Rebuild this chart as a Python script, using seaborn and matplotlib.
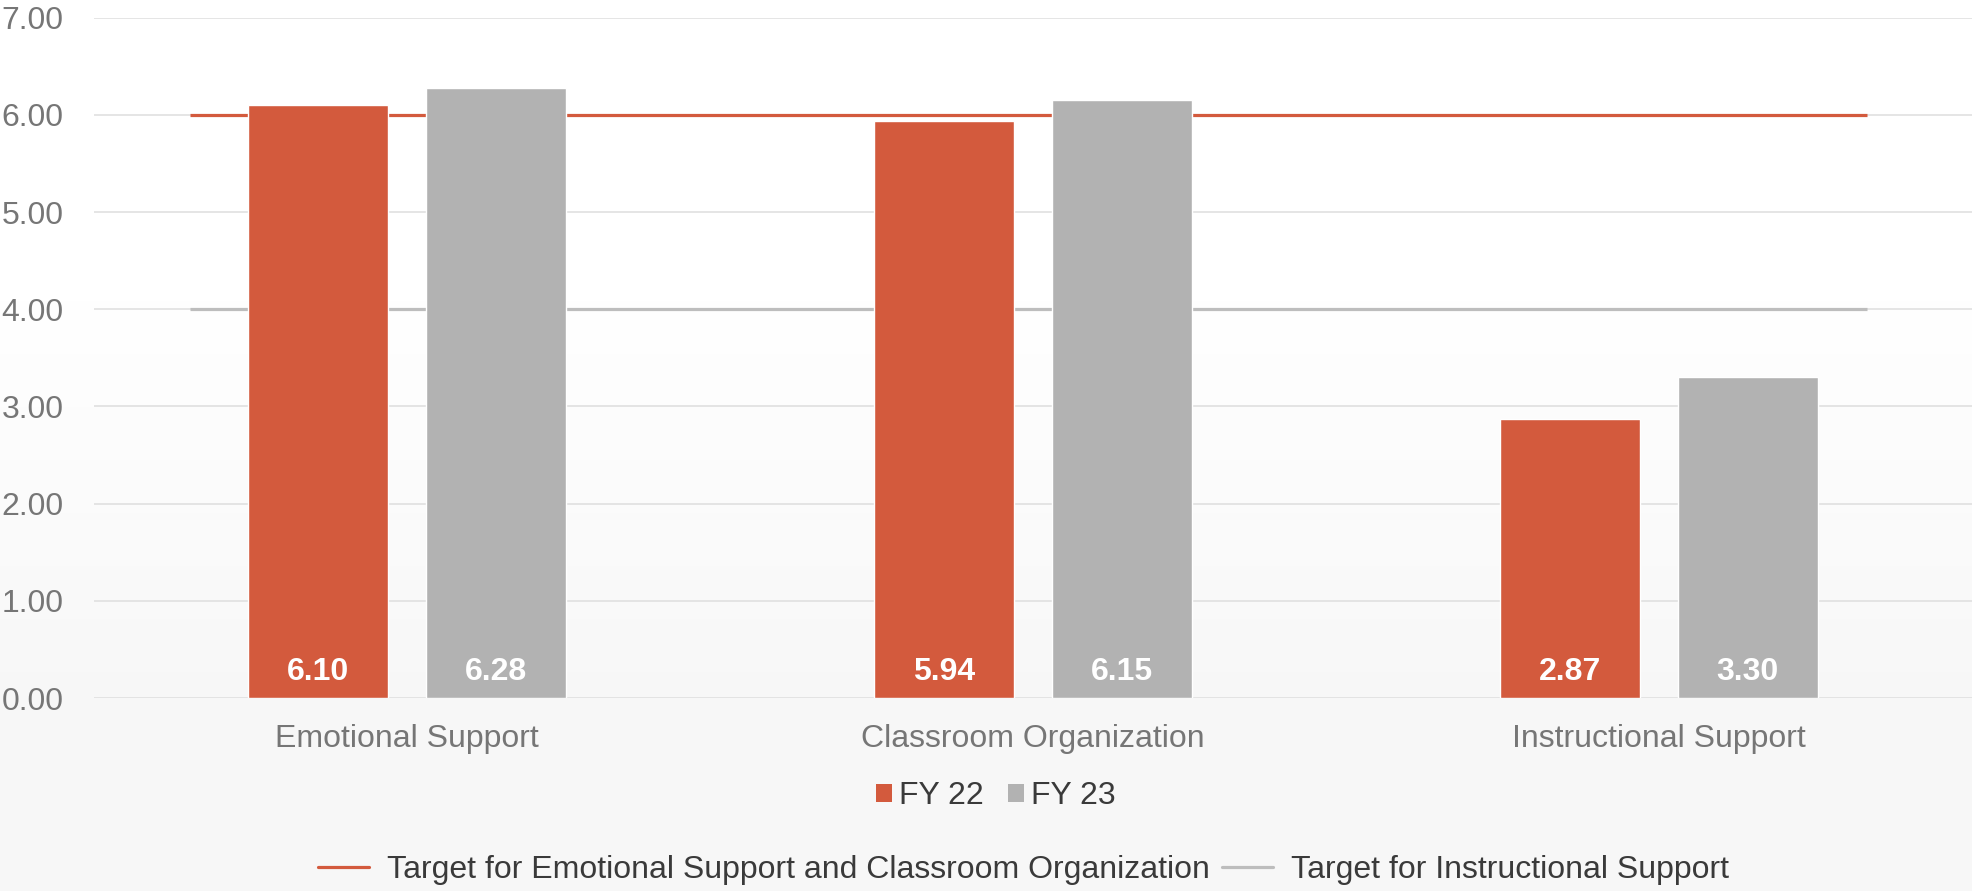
import numpy as np
import pandas as pd
import matplotlib
matplotlib.use("Agg")
import matplotlib.pyplot as plt
from matplotlib.patches import Patch
from matplotlib.lines import Line2D
import seaborn as sns

# Data
categories = ["Emotional Support", "Classroom Organization", "Instructional Support"]
series = ["FY 22", "FY 23"]
fy22 = [6.10, 5.94, 2.87]
fy23 = [6.28, 6.15, 3.30]
target_es_co = 6.00
target_is = 4.00
yticks = [0, 1, 2, 3, 4, 5, 6, 7]

RED = "#D35A3D"
GRAY = "#B2B2B2"
LINE_GRAY = "#BDBDBD"
TICK_COLOR = "#767676"
TEXT_DARK = "#3A3A3A"
FS = 23

sns.set_theme(style="white")
plt.rcParams["font.family"] = ["Liberation Sans", "DejaVu Sans"]

df = pd.DataFrame({
    "category": categories * 2,
    "series": [series[0]] * 3 + [series[1]] * 3,
    "score": fy22 + fy23,
})

W, H = 1972, 891
fig = plt.figure(figsize=(W / 100, H / 100), dpi=100)
fig.patch.set_facecolor("white")

# Soft vertical gradient behind everything (white at top, light grey below)
ypix = np.arange(H)
t = np.clip((ypix - 300) / (720 - 300), 0, 1)
shade = 1.0 - t * (1.0 - 0.969)
bg = np.repeat(np.repeat(shade[:, None], W, axis=1)[:, :, None], 3, axis=2)
fig.figimage(bg, xo=0, yo=0, origin="upper", zorder=-10)

ax = fig.add_axes([94 / W, 1 - 698 / H, 1 - 94 / W, (698 - 17.6) / H])
ax.set_facecolor("none")

sns.barplot(data=df, x="category", y="score", hue="series", order=categories,
            hue_order=series, palette=[RED, GRAY], width=0.568, gap=0.215,
            saturation=1, legend=False, ax=ax, zorder=3)

ax.set_xlim(-0.5, 2.5)
ax.set_ylim(0, 7)
ax.set_yticks(yticks)
ax.set_yticklabels([f"{v:.2f}" for v in yticks])
ax.grid(axis="y", color="#E0E0E0", linewidth=1.2, zorder=0)
ax.set_axisbelow(True)
for s in ax.spines.values():
    s.set_visible(False)
ax.set_xlabel("")
ax.set_ylabel("")
ax.tick_params(axis="y", length=0, pad=22, labelsize=FS, labelcolor=TICK_COLOR)
ax.tick_params(axis="x", length=0, pad=19, labelsize=FS, labelcolor=TICK_COLOR)

# Target lines
ax.hlines(target_es_co, -0.346, 2.332, color=RED, linewidth=2.3, zorder=2)
ax.hlines(target_is, -0.346, 2.332, color=LINE_GRAY, linewidth=2.3, zorder=2)

# Value labels inside the bars, near the base
for cont in ax.containers:
    for bar, val in zip(cont.patches, cont.datavalues):
        ax.text(bar.get_x() + bar.get_width() / 2, 0.27, f"{val:.2f}",
                ha="center", va="center", color="white", fontsize=FS,
                fontweight="bold", zorder=5)

# Series legend
h1 = [Patch(facecolor=RED, edgecolor="none"), Patch(facecolor=GRAY, edgecolor="none")]
fig.legend(h1, series, loc="center", bbox_to_anchor=(0.505, 1 - 796 / H),
           ncol=2, frameon=False, fontsize=FS, handlelength=0.5,
           handleheight=0.5, handletextpad=0.22, columnspacing=0.75,
           labelcolor=TEXT_DARK)

# Target legend
h2 = [Line2D([0], [0], color=RED, linewidth=2.3),
      Line2D([0], [0], color=LINE_GRAY, linewidth=2.3)]
fig.legend(h2, ["Target for Emotional Support and Classroom Organization",
                "Target for Instructional Support"],
           loc="center", bbox_to_anchor=(0.519, 1 - 870 / H), ncol=2,
           frameon=False, fontsize=FS, handlelength=1.6,
           handletextpad=0.55, columnspacing=0.4, labelcolor=TEXT_DARK)

fig.savefig("out.png", dpi=100)
